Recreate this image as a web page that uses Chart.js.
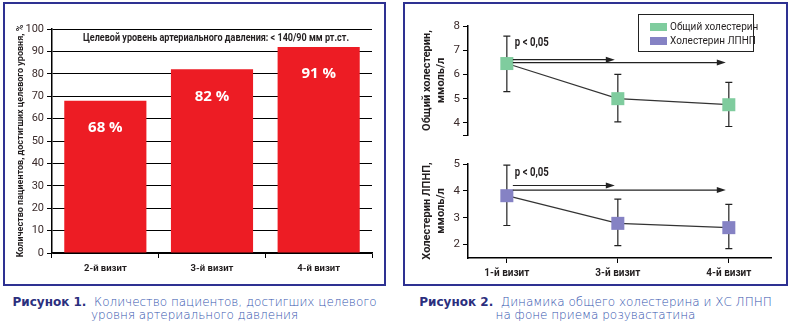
<!DOCTYPE html>
<html><head><meta charset="utf-8">
<script src="https://cdn.jsdelivr.net/npm/chart.js@4/dist/chart.umd.min.js"></script>
<style>
html,body{margin:0;padding:0;background:#fff;width:790px;height:325px;overflow:hidden}
.panel{position:absolute;border:2px solid #2e3192;box-sizing:border-box}
.cv{position:absolute}
.cap{position:absolute;text-align:center;font-family:"DejaVu Sans",sans-serif;font-weight:300;font-size:12px;color:#3354ae;line-height:13px;white-space:nowrap}
.cap b{color:#2b2f7e;font-weight:bold}
#legend{position:absolute;left:638px;top:14px;width:116px;height:38px;border:1px solid #222;box-sizing:border-box;font-family:Roboto,sans-serif;font-size:10px;color:#231f20}
#legend .it{position:absolute;left:11px;height:10px;line-height:10px;white-space:nowrap}
#legend .sw{display:inline-block;width:17px;height:8px;vertical-align:middle;margin-right:3px}
</style></head>
<body>
<div class="panel" style="left:3px;top:2px;width:383px;height:284px"></div>
<div class="panel" style="left:403px;top:2px;width:385px;height:284px"></div>
<canvas id="c1" class="cv" width="375" height="278" style="left:5px;top:5px"></canvas>
<canvas id="c2" class="cv" width="380" height="140" style="left:405px;top:5px"></canvas>
<canvas id="c3" class="cv" width="380" height="135" style="left:405px;top:150px"></canvas>
<div id="legend">
  <div class="it" style="top:7px"><span class="sw" style="background:#7fcc9e"></span>Общий холестерин</div>
  <div class="it" style="top:21px"><span class="sw" style="background:#8582c4"></span>Холестерин ЛПНП</div>
</div>
<div class="cap" style="left:3px;top:296px;width:383px">
  <b>Рисунок 1.</b>&nbsp; Количество пациентов, достигших целевого<br>уровня артериального давления</div>
<div class="cap" style="left:403px;top:296px;width:385px">
  <b>Рисунок 2.</b>&nbsp; Динамика общего холестерина и ХС ЛПНП<br>на фоне приема розувастатина</div>
<script>
// ---- data ----
const barCategories = ["2-й визит", "3-й визит", "4-й визит"];
const barValues = [68, 82, 92];
const barLabels = ["68 %", "82 %", "91 %"];
const barTicks = [0, 10, 20, 30, 40, 50, 60, 70, 80, 90, 100];
const barNote = "Целевой уровень артериального давления: < 140/90 мм рт.ст.";

const visitLabels = ["1-й визит", "3-й визит", "4-й визит"];
const visitPositions = [0, 1, 2];

const tcMean = [6.45, 5.0, 4.75];
const tcHigh = [7.58, 6.0, 5.67];
const tcLow = [5.29, 4.04, 3.85];
const tcTicks = [4, 5, 6, 7, 8];
const tcArrowTargets = [1, 2];
const tcArrowLevels = [6.61, 6.49];
const tcPLevel = 7.29;

const ldlMean = [3.82, 2.79, 2.63];
const ldlHigh = [4.96, 3.69, 3.5];
const ldlLow = [2.71, 1.96, 1.85];
const ldlTicks = [2, 3, 4, 5];
const ldlArrowTargets = [1, 2];
const ldlArrowLevels = [4.20, 4.03];
const ldlPLevel = 4.66;

const pText = "p < 0,05";

// ---- styles ----
const NARROW = 'Roboto,"Liberation Sans",sans-serif';
const BOLDF = '"Open Sans","Liberation Sans",sans-serif';
const TXT = '#231f20';
const TICKC = '#3b2b2b';

const barLabelPlugin = {
  id: 'barLabels',
  afterDatasetsDraw(chart) {
    const ctx = chart.ctx, meta = chart.getDatasetMeta(0);
    ctx.save();
    ctx.fillStyle = '#fff';
    ctx.font = 'bold 15px ' + BOLDF;
    ctx.textAlign = 'center';
    ctx.textBaseline = 'middle';
    meta.data.forEach((bar, i) => ctx.fillText(barLabels[i], bar.x, bar.y + 27));
    ctx.fillStyle = TXT;
    ctx.font = 'bold 11px ' + NARROW;
    const xs = chart.scales.x, ys = chart.scales.y;
    ctx.fillText(barNote, xs.getPixelForValue(1) + 4, ys.getPixelForValue(96), 266);
    ctx.restore();
  }
};

function makeLinePlugin(high, low, targets, levels, pLevel) {
  return {
    id: 'extras',
    beforeDatasetsDraw(chart) {
      const ctx = chart.ctx, xs = chart.scales.x, ys = chart.scales.y;
      ctx.save();
      ctx.strokeStyle = '#222';
      ctx.lineWidth = 1.2;
      visitPositions.forEach((p, i) => {
        const x = xs.getPixelForValue(p), yh = ys.getPixelForValue(high[i]), yl = ys.getPixelForValue(low[i]);
        ctx.beginPath();
        ctx.moveTo(x, yh); ctx.lineTo(x, yl);
        ctx.moveTo(x - 3.5, yh); ctx.lineTo(x + 3.5, yh);
        ctx.moveTo(x - 3.5, yl); ctx.lineTo(x + 3.5, yl);
        ctx.stroke();
      });
      ctx.restore();
    },
    afterDatasetsDraw(chart) {
      const ctx = chart.ctx, xs = chart.scales.x, ys = chart.scales.y;
      const x0 = xs.getPixelForValue(visitPositions[0]);
      ctx.save();
      ctx.strokeStyle = '#222';
      ctx.fillStyle = '#222';
      ctx.lineWidth = 1.2;
      targets.forEach((t, i) => {
        const y = ys.getPixelForValue(levels[i]);
        const x1 = xs.getPixelForValue(t) - 3;
        ctx.beginPath();
        ctx.moveTo(x0 + 6, y); ctx.lineTo(x1 - 6, y);
        ctx.stroke();
        ctx.beginPath();
        ctx.moveTo(x1, y); ctx.lineTo(x1 - 9, y - 3); ctx.lineTo(x1 - 9, y + 3);
        ctx.closePath(); ctx.fill();
      });
      ctx.fillStyle = TXT;
      ctx.font = 'bold 12px ' + NARROW;
      ctx.textAlign = 'left';
      ctx.textBaseline = 'middle';
      ctx.fillText(pText, x0 + 8, ys.getPixelForValue(pLevel), 34);
      ctx.restore();
    }
  };
}

Chart.defaults.animation = false;

new Chart(document.getElementById('c1'), {
  type: 'bar',
  data: {
    labels: barCategories,
    datasets: [{ data: barValues, backgroundColor: '#ed1c24', borderWidth: 0, categoryPercentage: 1, barPercentage: 0.77 }]
  },
  options: {
    responsive: false, devicePixelRatio: 1, animation: false,
    layout: { padding: { top: 24, right: 8, left: 0, bottom: 0 } },
    plugins: { legend: { display: false }, tooltip: { enabled: false } },
    scales: {
      x: {
        grid: { drawOnChartArea: false, drawTicks: true, tickLength: 5, color: '#000', offset: true },
        border: { color: '#000', width: 1.5 },
        ticks: { color: TXT, font: { family: NARROW, size: 9.5, weight: 'bold' }, padding: 5 },
        afterFit(s) { s.height = 30; }
      },
      y: {
        min: 0, max: 100,
        afterBuildTicks(s) { s.ticks = barTicks.map(v => ({ value: v })); },
        grid: { color: '#000', lineWidth: 1, tickLength: 5 },
        border: { color: '#000', width: 1.5 },
        ticks: { color: TICKC, font: { family: NARROW, size: 11 }, padding: 3 },
        title: { display: true, text: 'Количество пациентов, достигших целевого уровня, %', color: TXT,
                 font: { family: NARROW, size: 9, weight: 'bold' }, padding: { top: 10, bottom: 0 } },
        afterFit(s) { s.width = 47; }
      }
    }
  },
  plugins: [barLabelPlugin]
});

function lineChart(id, mean, high, low, ticks, yMin, yMax, color, title, targets, levels, pLevel, showX, pad, xHeight) {
  const yTicks = showX ? ticks : [yMin].concat(ticks);
  return new Chart(document.getElementById(id), {
    type: 'line',
    data: {
      datasets: [{
        data: visitPositions.map((p, i) => ({ x: p, y: mean[i] })),
        borderColor: '#333', borderWidth: 1.2,
        pointStyle: 'rect', pointRadius: 9.2, pointBackgroundColor: color, pointBorderWidth: 0,
        fill: false, tension: 0
      }]
    },
    options: {
      responsive: false, devicePixelRatio: 1, animation: false,
      layout: { padding: pad },
      plugins: { legend: { display: false }, tooltip: { enabled: false } },
      scales: {
        x: {
          type: 'linear', min: -0.35, max: 2.38, display: showX,
          afterBuildTicks(s) { s.ticks = visitPositions.map(v => ({ value: v })); },
          grid: { drawOnChartArea: false, drawTicks: true, tickLength: 5, color: '#000' },
          border: { color: '#000', width: 1.5 },
          ticks: { color: TXT, font: { family: NARROW, size: 10, weight: 'bold' }, padding: 4,
                   callback: v => visitLabels[visitPositions.indexOf(v)] },
          afterFit(s) { if (showX) s.height = xHeight; }
        },
        y: {
          min: yMin, max: yMax,
          afterBuildTicks(s) { s.ticks = yTicks.map(v => ({ value: v })); },
          grid: { drawOnChartArea: false, drawTicks: true, tickLength: 5, color: '#000' },
          border: { color: '#000', width: 1.5 },
          ticks: { color: TICKC, font: { family: NARROW, size: 11.5 }, padding: 3,
                   callback: v => ticks.includes(v) ? String(v) : '' },
          title: { display: true, text: title, color: TXT,
                   font: { family: NARROW, size: 11, weight: 'bold' }, padding: { top: 16, bottom: 0 } },
          afterFit(s) { s.width = 63; }
        }
      }
    },
    plugins: [makeLinePlugin(high, low, targets, levels, pLevel)]
  });
}

lineChart('c2', tcMean, tcHigh, tcLow, tcTicks, 3.5, 8, '#7fcc9e', ['Общий холестерин,', 'ммоль/л'],
  tcArrowTargets, tcArrowLevels, tcPLevel, false, { top: 21, right: 14, bottom: 10, left: 0 }, 0);
lineChart('c3', ldlMean, ldlHigh, ldlLow, ldlTicks, 1.5, 5, '#8582c4', ['Холестерин ЛПНП,', 'ммоль/л'],
  ldlArrowTargets, ldlArrowLevels, ldlPLevel, true, { top: 14, right: 14, bottom: 0, left: 0 }, 27);
</script>
</body></html>
